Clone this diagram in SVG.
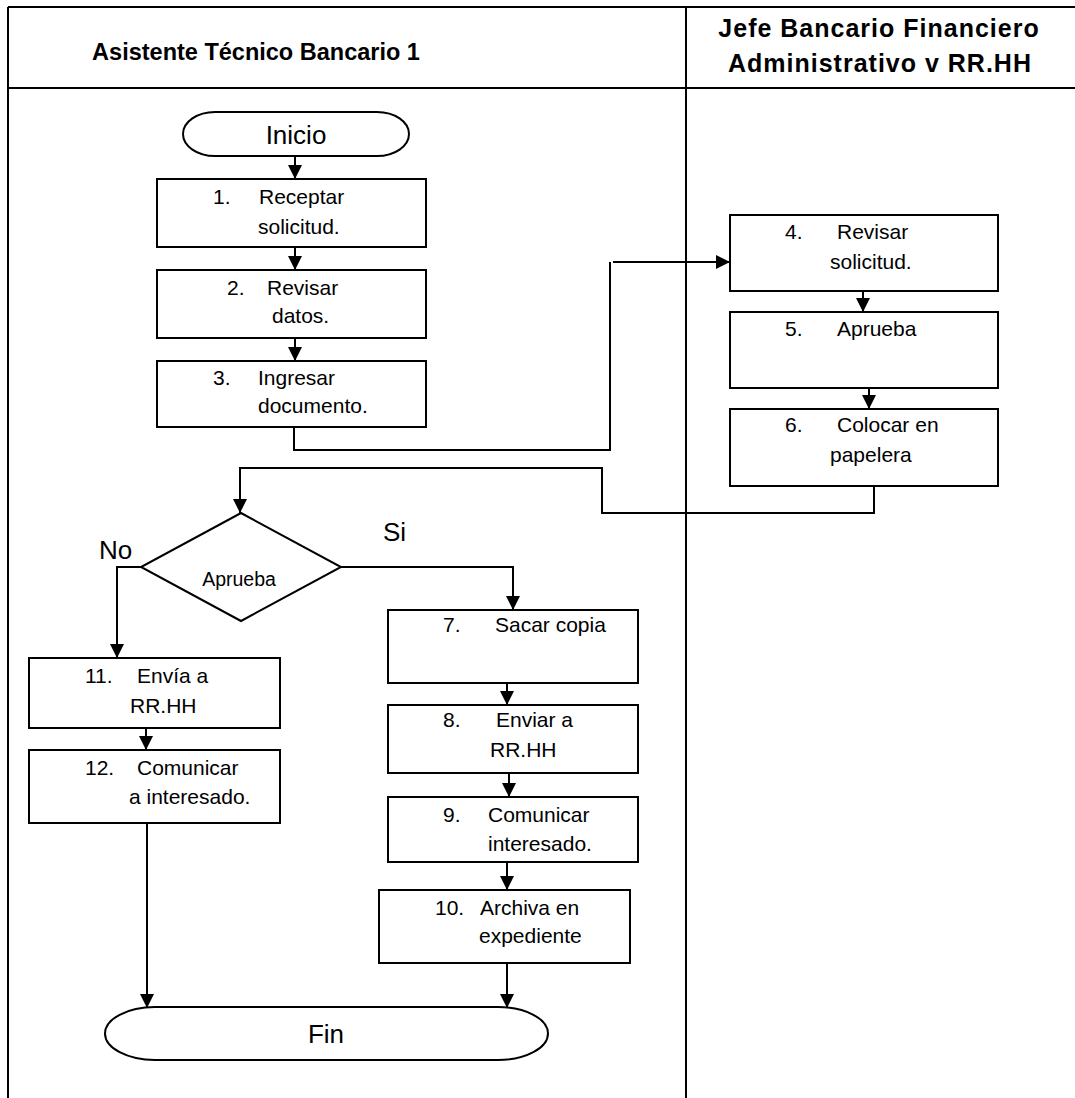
<svg xmlns="http://www.w3.org/2000/svg" width="1075" height="1098" viewBox="0 0 1075 1098">
<style>
.frame{fill:none;stroke:#000;stroke-width:2}
.box{fill:#fff;stroke:#000;stroke-width:2}
.conn{fill:none;stroke:#000;stroke-width:2}
text{font-family:"Liberation Sans",Arial,sans-serif;fill:#000}
.h{font-weight:bold;font-size:23.5px}
.hr{font-weight:bold;font-size:25px;letter-spacing:1px}
.t{font-size:21px}
.big{font-size:26px}
.d{font-size:19.5px}
</style>
<defs>
<marker id="ah" markerUnits="userSpaceOnUse" markerWidth="16" markerHeight="16" refX="14" refY="7" orient="auto">
<path d="M0,0 L14,7 L0,14 Z" fill="#000"/>
</marker>
</defs>
<rect width="1075" height="1098" fill="#fff"/>
<g id="frame">
<line class="frame" x1="8" y1="7" x2="1075" y2="7"/>
<line class="frame" x1="8" y1="88" x2="1075" y2="88"/>
<line class="frame" x1="8" y1="7" x2="8" y2="1098"/>
<line class="frame" x1="686" y1="7" x2="686" y2="1098"/>
<text class="h" x="256" y="60" text-anchor="middle">Asistente Técnico Bancario 1</text>
<text class="hr" x="879" y="37" text-anchor="middle">Jefe Bancario Financiero</text>
<text class="hr" x="880" y="72" text-anchor="middle">Administrativo v RR.HH</text>
</g>
<g id="connectors">
<line class="conn" x1="295" y1="156" x2="295" y2="179" marker-end="url(#ah)"/>
<line class="conn" x1="295" y1="247" x2="295" y2="270" marker-end="url(#ah)"/>
<line class="conn" x1="295" y1="338" x2="295" y2="361" marker-end="url(#ah)"/>
<path class="conn" d="M294 427 V450 H610 V262"/>
<line class="conn" x1="613" y1="262" x2="730" y2="262" marker-end="url(#ah)"/>
<line class="conn" x1="863" y1="291" x2="863" y2="312" marker-end="url(#ah)"/>
<line class="conn" x1="869" y1="388" x2="869" y2="409" marker-end="url(#ah)"/>
<path class="conn" d="M874 486 V513 H602 V468 H240 V513" marker-end="url(#ah)"/>
<path class="conn" d="M141 567 H117 V658" marker-end="url(#ah)"/>
<path class="conn" d="M341 567 H513 V610" marker-end="url(#ah)"/>
<line class="conn" x1="146" y1="728" x2="146" y2="750" marker-end="url(#ah)"/>
<line class="conn" x1="507" y1="683" x2="507" y2="705" marker-end="url(#ah)"/>
<line class="conn" x1="509" y1="773" x2="509" y2="797" marker-end="url(#ah)"/>
<line class="conn" x1="507" y1="862" x2="507" y2="890" marker-end="url(#ah)"/>
<line class="conn" x1="147" y1="823" x2="147" y2="1008" marker-end="url(#ah)"/>
<line class="conn" x1="507" y1="963" x2="507" y2="1008" marker-end="url(#ah)"/>
</g>
<g id="inicio">
<rect class="box" x="183" y="112" width="226" height="44" rx="32" ry="22"/>
<text class="big" x="296" y="144" text-anchor="middle">Inicio</text>
</g>
<g id="n1">
<rect class="box" x="157" y="179" width="269" height="68"/>
<text class="t" x="213" y="204">1.</text><text class="t" x="259" y="204">Receptar</text>
<text class="t" x="258" y="234">solicitud.</text>
</g>
<g id="n2">
<rect class="box" x="157" y="270" width="269" height="68"/>
<text class="t" x="227" y="295">2.</text><text class="t" x="267" y="295">Revisar</text>
<text class="t" x="272" y="323">datos.</text>
</g>
<g id="n3">
<rect class="box" x="157" y="361" width="269" height="66"/>
<text class="t" x="213" y="385">3.</text><text class="t" x="258" y="385">Ingresar</text>
<text class="t" x="258" y="413">documento.</text>
</g>
<g id="n4">
<rect class="box" x="730" y="215" width="268" height="76"/>
<text class="t" x="785" y="239">4.</text><text class="t" x="837" y="239">Revisar</text>
<text class="t" x="830" y="269">solicitud.</text>
</g>
<g id="n5">
<rect class="box" x="730" y="312" width="268" height="76"/>
<text class="t" x="785" y="336">5.</text><text class="t" x="837" y="336">Aprueba</text>
</g>
<g id="n6">
<rect class="box" x="730" y="409" width="268" height="77"/>
<text class="t" x="785" y="432">6.</text><text class="t" x="837" y="432">Colocar en</text>
<text class="t" x="830" y="462">papelera</text>
</g>
<g id="decision">
<polygon class="box" points="241,513 341,567 241,621 141,567"/>
<text class="d" x="239" y="586" text-anchor="middle">Aprueba</text>
<text class="big" x="99" y="559">No</text>
<text class="big" x="383" y="541">Si</text>
</g>
<g id="n7">
<rect class="box" x="388" y="610" width="250" height="73"/>
<text class="t" x="443" y="632">7.</text><text class="t" x="495" y="632">Sacar copia</text>
</g>
<g id="n8">
<rect class="box" x="388" y="705" width="250" height="68"/>
<text class="t" x="443" y="727">8.</text><text class="t" x="496" y="727">Enviar a</text>
<text class="t" x="490" y="757">RR.HH</text>
</g>
<g id="n9">
<rect class="box" x="388" y="797" width="250" height="65"/>
<text class="t" x="443" y="822">9.</text><text class="t" x="488" y="822">Comunicar</text>
<text class="t" x="488" y="851">interesado.</text>
</g>
<g id="n10">
<rect class="box" x="379" y="890" width="251" height="73"/>
<text class="t" x="435" y="915">10.</text><text class="t" x="480" y="915">Archiva en</text>
<text class="t" x="479" y="943">expediente</text>
</g>
<g id="n11">
<rect class="box" x="29" y="658" width="251" height="70"/>
<text class="t" x="85" y="683">11.</text><text class="t" x="137" y="683">Envía a</text>
<text class="t" x="130" y="713">RR.HH</text>
</g>
<g id="n12">
<rect class="box" x="29" y="750" width="251" height="73"/>
<text class="t" x="85" y="775">12.</text><text class="t" x="137" y="775">Comunicar</text>
<text class="t" x="129" y="804">a interesado.</text>
</g>
<g id="fin">
<rect class="box" x="105" y="1007" width="443" height="53" rx="50" ry="26.5"/>
<text class="big" x="326" y="1043" text-anchor="middle">Fin</text>
</g>
</svg>
